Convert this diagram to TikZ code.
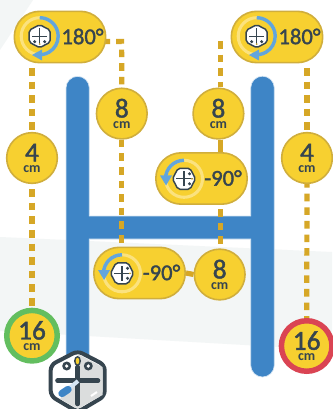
\documentclass[tikz,border=0pt]{standalone}
\usepackage{fontspec}
\setmainfont{Carlito}[FakeBold=1.6]
\newfontfamily\cmfont{Carlito Bold}
\definecolor{barblue}{HTML}{3E85C6}
\definecolor{halo}{HTML}{D6E6F4}
\definecolor{goldfill}{HTML}{F7D030}
\definecolor{goldedge}{HTML}{D0AE3C}
\definecolor{dashgold}{HTML}{D6A726}
\definecolor{ink}{HTML}{36454F}
\definecolor{ground}{HTML}{F3F6F6}
\definecolor{ringblue}{HTML}{62A5DC}
\definecolor{ringpale}{HTML}{FBE27E}
\definecolor{okgreen}{HTML}{63BE5F}
\definecolor{badred}{HTML}{DA4453}
\pgfdeclarelayer{base}
\pgfdeclarelayer{links}
\pgfsetlayers{base,links,main}
\tikzset{
  x=0.75pt,y=-0.75pt,
  bar/.style={draw=halo,line width=0.5pt,fill=barblue},
  link/.style={draw=dashgold,line width=3.9pt,dash pattern=on 5.7pt off 4.5pt},
  pill/.style={draw=goldedge,line width=1.2pt,fill=goldfill,rounded corners=19pt,minimum width=68.5pt,minimum height=38.5pt,inner sep=0pt},
  dist/.style={circle,draw=goldedge,line width=1.2pt,fill=goldfill,minimum size=38pt,inner sep=0pt,text=ink,align=center},
  far/.style={circle,line width=4.1pt,fill=goldfill,minimum size=37.9pt,inner sep=0pt,text=ink,align=center},
  ang/.style={text=ink,font=\fontsize{17}{17}\selectfont,inner sep=0pt},
}
\newcommand{\dval}[2]{\raisebox{-1.2pt}{\fontsize{20.5}{19}\selectfont #1}\\[-3.5pt]\raisebox{-0.8pt}{\fontsize{10.5}{9}\selectfont\cmfont #2}}
\newcommand{\miniicon}[3]{%
  \begin{scope}[shift={#1}]
    \draw[ringpale,line width=2.3pt] (0,0) circle[radius=18.5];
    \draw[ringblue,line width=2.6pt] #3;
    \begin{scope}[rotate=#2]
    \draw[ink,line width=1.1pt,fill=white,rounded corners=1.5pt]
      (0,-11.5)--(10.5,-6)--(10.5,6)--(0,11.5)--(-10.5,6)--(-10.5,-6)--cycle;
    \draw[ink,line width=0.8pt] (-7.5,0)--(7.5,0) (0,-8)--(0,9);
    \fill[ink] (-5,5.5) circle[radius=1.7] (5,5.5) circle[radius=1.7];
    \fill[goldedge] (0,8) circle[radius=1];
    \end{scope}
  \end{scope}}
\begin{document}
\begin{tikzpicture}
\useasboundingbox (0,0) rectangle (332,409);
\begin{pgfonlayer}{base}
\fill[white] (0,0) rectangle (332,409);
\fill[ground] (0,0)--(33,0)--(0,50)--cycle;
\fill[ground] (0,237)--(332,252)--(332,350)--(0,331)--cycle;
\draw[bar] (66,380)--(66,88) arc[start angle=180,end angle=360,radius=11.65]--(89.3,216)--(250.7,216)--(250.7,88) arc[start angle=180,end angle=360,radius=11.8]--(274.3,365.2) arc[start angle=0,end angle=180,radius=11.8]--(250.7,239)--(89.3,239)--(89.3,380)--cycle;
\end{pgfonlayer}
% nodes
\node[dist] (e1) at (121.8,113.6) {\dval{8}{cm}};
\node[dist] (e2) at (218.4,113.6) {\dval{8}{cm}};
\node[dist] (e3) at (219.7,274.5) {\dval{8}{cm}};
\node[dist] (l4) at (32,158) {\dval{4}{cm}};
\node[dist] (r4) at (307,158) {\dval{4}{cm}};
\node[far,draw=okgreen] (l16) at (32,335.7) {\dval{16}{cm}};
\node[far,draw=badred] (r16) at (306.7,346) {\dval{16}{cm}};
\node[pill] (p1) at (60,37) {};
\node[pill] (p2) at (277,37) {};
\node[pill] (p3) at (201.5,178.5) {};
\node[pill] (p4) at (139.5,273) {};
\coordinate (c1) at (121.6,41.5);
\coordinate (c2) at (220.8,41);
\coordinate (s1) at (102.5,41.5);
\coordinate (l1) at (32,68);
\coordinate (r1) at (307,68);
% connectors
\begin{pgfonlayer}{links}
\draw[link] (l1)--(l4.north);
\draw[link,dash phase=6.45pt] (l4.south)--(l16.north);
\draw[link] (r1)--(r4.north);
\draw[link,dash phase=3pt] (r4.south)--(r16.north);
\draw[link] (s1)--(c1)--(e1.north);
\draw[link] (c2)--(e2.north -| c2);
\draw[link,dash pattern={}] (e2.south -| c2)--(p3.north -| c2);
\draw[link,dash phase=7pt] (p3.south -| c2)--(e3.north -| c2);
\draw[link] (e1.south)--(p4.north -| e1);
\draw[link,dash pattern={}] (p4.east)--(e3.west);
\end{pgfonlayer}
% pill contents
\miniicon{(39.7,36.2)}{0}{(0,-18.5) arc[start angle=-90,end angle=100,radius=18.5]}
\fill[ringblue] (32,55)--(42,49.5)--(42,60.5)--cycle;
\miniicon{(256.7,36.2)}{0}{(0,-18.5) arc[start angle=-90,end angle=100,radius=18.5]}
\fill[ringblue] (249,55)--(259,49.5)--(259,60.5)--cycle;
\miniicon{(122,273.3)}{90}{(0,-18.5) arc[start angle=-90,end angle=-180,radius=18.5]}
\fill[ringblue] (98,270)--(110,270)--(104,280)--cycle;
\miniicon{(184,178.8)}{90}{(0,-18.5) arc[start angle=-90,end angle=-180,radius=18.5]}
\fill[ringblue] (160,175.5)--(172,175.5)--(166,185.5)--cycle;
\node[ang] at (82.5,36.5) {180°};
\node[ang] at (299.5,36.5) {180°};
\node[ang] at (223,178) {-90°};
\node[ang] at (161.5,272.5) {-90°};
% robot
\draw[ink,line width=3pt,fill=white,rounded corners=4pt] (77.7,351)--(104.7,365)--(104.7,396)--(77.7,412)--(50.7,396)--(50.7,365)--cycle;
\fill[ground!90!black] (77.7,354)--(102.5,367)--(102.5,395)--(77.7,409)--(60,399)--(77.7,381)--cycle;
\draw[ink,line width=3.4pt,line cap=round] (57.5,380.7)--(98,380.7) (77.7,367)--(77.7,404);
\fill[ink] (66.7,366) circle[radius=4.5] (88.3,366) circle[radius=4.5];
\fill[white] (66.7,366) circle[radius=1.8] (88.3,366) circle[radius=1.8];
\fill[ink] (77.5,361) ellipse[x radius=3.5,y radius=5];
\fill[goldfill] (77.5,361) ellipse[x radius=1.8,y radius=3.2];
\draw[white,line width=1.5pt] (91,396)--(97,392);
\draw[halo,line width=3pt] (78,381)--(66,391);
\draw[barblue,line width=5.5pt,line cap=round] (68,389.5)--(62,393.5);
\end{tikzpicture}
\end{document}
